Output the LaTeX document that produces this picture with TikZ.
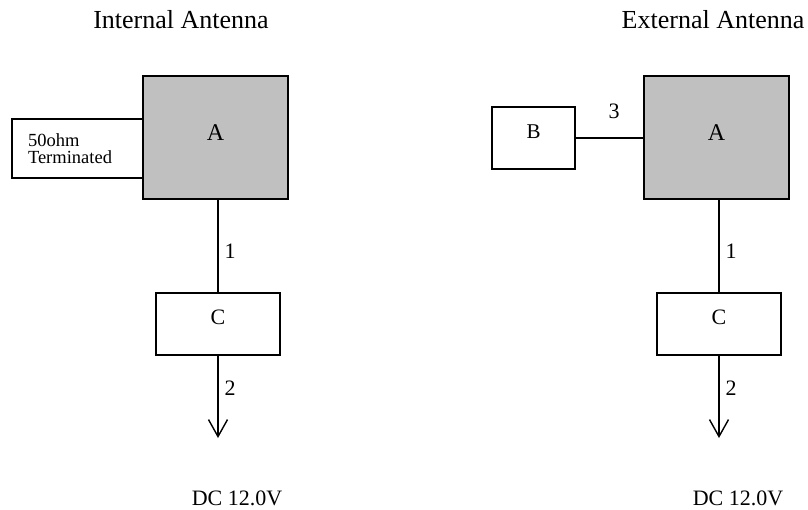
\documentclass[tikz,border=0pt]{standalone}
\usepackage{fontspec}
\setmainfont{Liberation Serif}
\usetikzlibrary{arrows.meta}
\definecolor{boxgray}{RGB}{192,192,192}
\tikzset{
  blk/.style={draw=black, line width=1.4pt, inner sep=0pt, fill=white},
  abox/.style={blk, fill=boxgray, minimum width=145pt, minimum height=123pt,
    font=\fontsize{24}{28}\selectfont, text depth=9pt},
  cbox/.style={blk, minimum width=124pt, minimum height=62pt,
    font=\fontsize{22}{26}\selectfont, text depth=14pt},
  bbox/.style={blk, minimum width=83pt, minimum height=62pt,
    font=\fontsize{21}{25}\selectfont, text depth=12pt},
  tbox/.style={blk, minimum height=59pt, text width=99pt, inner xsep=16pt,
    align=left, font=\fontsize{18.5}{17.5}\selectfont},
  wire/.style={draw=black, line width=1.4pt},
  lbl/.style={font=\fontsize{22}{26}\selectfont, inner sep=0pt},
  ttl/.style={font=\fontsize{26}{30}\selectfont, inner sep=0pt},
  dc/.style={font=\fontsize{22}{26}\selectfont, inner sep=0pt},
  tip/.style={-{Straight Barb[length=17pt,width=19pt,line width=1.4pt]}}
}
\begin{document}
\begin{tikzpicture}[x=1pt,y=-1pt]
\useasboundingbox (0,0) rectangle (808,509);
% left diagram
\node[ttl] (titleL) at (181,20) {Internal Antenna};
\node[tbox] (term) at (77.5,148.5) {50ohm\\Terminated};
\node[abox] (AL) at (215.5,137.5) {A};
\node[cbox] (CL) at (218,324) {C};
\coordinate (endL) at (218,438);
\node[dc] (dcL) at (237,498) {DC 12.0V};
\draw[wire] (CL.north |- AL.south) -- node[lbl, right=6pt, pos=0.56] {1} (CL.north);
\draw[wire, tip] (CL.south) -- node[lbl, right=6pt, pos=0.4] {2} (endL);
% right diagram
\node[ttl] (titleR) at (713,20) {External Antenna};
\node[abox] (AR) at (716.5,137.5) {A};
\node[bbox] (BR) at (533.5,138) {B};
\node[cbox] (CR) at (719,324) {C};
\coordinate (endR) at (719,438);
\node[dc] (dcR) at (738,498) {DC 12.0V};
\draw[wire] (BR.east) -- node[lbl, above=19pt, pos=0.57] {3} (BR.east -| AR.west);
\draw[wire] (CR.north |- AR.south) -- node[lbl, right=6pt, pos=0.56] {1} (CR.north);
\draw[wire, tip] (CR.south) -- node[lbl, right=6pt, pos=0.4] {2} (endR);
\end{tikzpicture}
\end{document}
